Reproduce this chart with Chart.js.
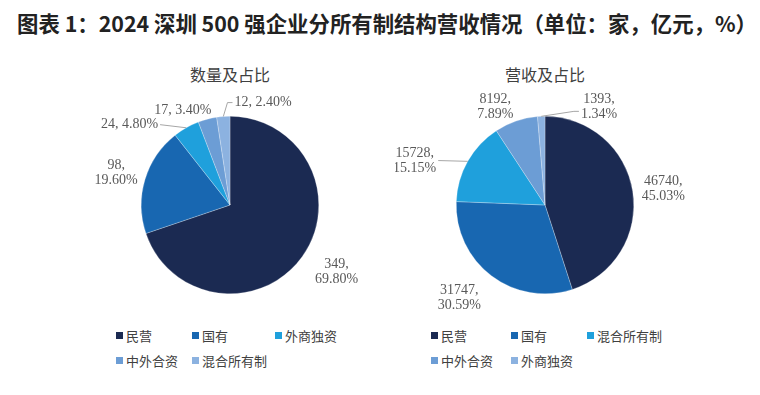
<!DOCTYPE html>
<html>
<head>
<meta charset="utf-8">
<script src="https://cdn.jsdelivr.net/npm/chart.js@4"></script>
<style>
  body { margin: 0; width: 760px; height: 395px; background: #fff; position: relative; overflow: hidden;
         font-family: "Noto Sans CJK SC", "Noto Sans", sans-serif; }
  #title { position: absolute; left: 17px; top: 7px; font-size: 21.4px; font-weight: bold; color: #222; white-space: nowrap; }
  .sub { position: absolute; top: 62px; font-size: 16px; color: #404040; width: 200px; text-align: center; }
  .box { position: absolute; }
  .legend { position: absolute; display: grid; row-gap: 6px; font-size: 13px; color: #404040; }
  .legend span.sw { display: inline-block; width: 7px; height: 7px; margin-right: 3px; vertical-align: 2px; }
</style>
</head>
<body>
<div id="title">图表 1：2024 深圳 500 强企业分所有制结构营收情况（单位：家，亿元，%）</div>
<div class="sub" style="left:130px">数量及占比</div>
<div class="sub" style="left:445px">营收及占比</div>
<div class="box" style="left:80px;top:80px;width:300px;height:230px"><canvas id="countChart"></canvas></div>
<div class="box" style="left:395px;top:80px;width:300px;height:230px"><canvas id="revChart"></canvas></div>
<div class="legend" id="countLegend" style="left:116px;top:326px;grid-template-columns:76px 83px auto"></div>
<div class="legend" id="revLegend" style="left:431px;top:326px;grid-template-columns:80px 76px auto"></div>
<script>
// data
const countLabels = ['民营', '国有', '外商独资', '中外合资', '混合所有制'];
const countValues = [349, 98, 24, 17, 12];
const countPct = ['69.80', '19.60', '4.80', '3.40', '2.40'];

const revLabels = ['民营', '国有', '混合所有制', '中外合资', '外商独资'];
const revValues = [46740, 31747, 15728, 8192, 1393];
const revPct = ['45.03', '30.59', '15.15', '7.89', '1.34'];

const colors = ['#1b2a52', '#1867b1', '#1fa0dc', '#6c9dd5', '#8cb2e0'];

// label placement tweaks (pixels), separate from the data
const countLayout = [
    { dx: 10, dy: -2, one: false },
    { dx: 0, dy: 2, one: false },
    { dx: -42, dy: 23, one: true, leader: true },
    { dx: -17, dy: 20, one: true },
    { dx: 42, dy: 16, one: true, leader: true }
];
const revLayout = [
    { dx: 1, dy: 2, one: false },
    { dx: -14, dy: -2, one: false },
    { dx: -27, dy: 14, one: false, leader: true },
    { dx: -11, dy: 14, one: false },
    { dx: 59, dy: 20, one: false, leader: true }
];

const sliceLabels = {
    id: 'sliceLabels',
    afterDatasetsDraw(chart, args, opts) {
        const ctx = chart.ctx;
        const meta = chart.getDatasetMeta(0);
        ctx.save();
        ctx.font = '14px "Liberation Serif", "DejaVu Serif", serif';
        ctx.fillStyle = '#595959';
        ctx.textAlign = 'center';
        ctx.textBaseline = 'middle';
        meta.data.forEach((arc, i) => {
            const lay = opts.layout[i];
            const mid = (arc.startAngle + arc.endAngle) / 2;
            const r = arc.outerRadius;
            const ax = arc.x + Math.cos(mid) * r;
            const ay = arc.y + Math.sin(mid) * r;
            const lx = arc.x + Math.cos(mid) * (r + 30) + lay.dx;
            const ly = arc.y + Math.sin(mid) * (r + 30) + lay.dy;
            const v = opts.values[i] + ',';
            const p = opts.pct[i] + '%';
            let w;
            if (lay.one) {
                const t = v + ' ' + p;
                ctx.fillText(t, lx, ly);
                w = ctx.measureText(t).width;
            } else {
                ctx.fillText(v, lx, ly - 7.5);
                ctx.fillText(p, lx, ly + 7.5);
                w = Math.max(ctx.measureText(v).width, ctx.measureText(p).width);
            }
            if (lay.leader) {
                ctx.strokeStyle = '#a6a6a6';
                ctx.lineWidth = 1;
                ctx.beginPath();
                ctx.moveTo(ax, ay);
                if (lx < ax) {
                    const ex = lx + w / 2 + 2;
                    ctx.lineTo(ex, ly);
                } else {
                    const ex = lx - w / 2 - 2;
                    const yy = lay.one ? ly : ly + 5;
                    ctx.lineTo(ex - 5, yy);
                    ctx.lineTo(ex, yy);
                }
                ctx.stroke();
            }
        });
        ctx.restore();
    }
};

function makePie(id, labels, values, pct, layout, padLeft) {
    new Chart(document.getElementById(id), {
        type: 'pie',
        data: {
            labels: labels,
            datasets: [{
                data: values,
                backgroundColor: colors,
                borderColor: 'rgba(255,255,255,0.5)',
                borderWidth: 0.5
            }]
        },
        options: {
            responsive: true,
            maintainAspectRatio: false,
            animation: false,
            layout: { padding: { left: padLeft, right: 300 - 178 - padLeft, top: 36, bottom: 16 } },
            plugins: {
                legend: { display: false },
                tooltip: { enabled: false },
                sliceLabels: { values: values, pct: pct, layout: layout }
            }
        },
        plugins: [sliceLabels]
    });
}

function makeLegend(id, labels) {
    const el = document.getElementById(id);
    labels.forEach((l, i) => {
        const d = document.createElement('div');
        d.innerHTML = '<span class="sw" style="background:' + colors[i] + '"></span>' + l;
        el.appendChild(d);
    });
}

makePie('countChart', countLabels, countValues, countPct, countLayout, 61);
makePie('revChart', revLabels, revValues, revPct, revLayout, 61);
makeLegend('countLegend', countLabels);
makeLegend('revLegend', revLabels);
</script>
</body>
</html>
